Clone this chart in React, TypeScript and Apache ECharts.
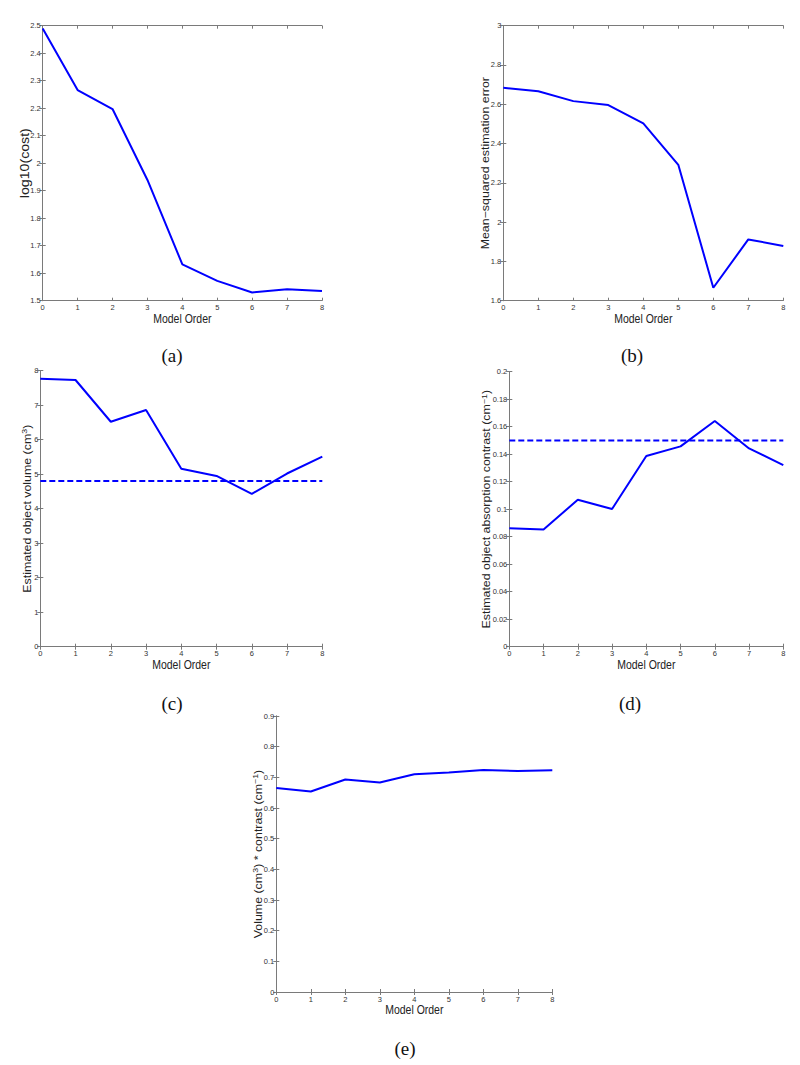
import React, { useEffect, useRef } from "react";
import * as echarts from "echarts";

const orders = [0, 1, 2, 3, 4, 5, 6, 7, 8];
const logCost = [2.49, 2.266, 2.197, 1.939, 1.632, 1.572, 1.53, 1.542, 1.535];
const mse = [2.684, 2.666, 2.616, 2.596, 2.503, 2.292, 1.666, 1.912, 1.879];
const volume = [7.77, 7.73, 6.52, 6.86, 5.16, 4.95, 4.43, 5.02, 5.51];
const contrast = [0.0861, 0.0852, 0.1069, 0.1001, 0.1387, 0.1457, 0.1641, 0.1442, 0.1321];
const product = [0.665, 0.654, 0.693, 0.683, 0.71, 0.716, 0.724, 0.721, 0.723];
const trueVolume = 4.8;
const trueContrast = 0.15;

const xName = "Model Order";
const captions = ["(a)", "(b)", "(c)", "(d)", "(e)"];

type Panel = {
  grid: { left: number; top: number; width: number; height: number };
  yName: string;
  yMin: number;
  yMax: number;
  yInterval: number;
  values: number[];
  ref?: number;
  nameOffset: number;
  nameSize: number;
  caption: { x: number; y: number };
};

const panels: Panel[] = [
  {
    grid: { left: 42.7, top: 25.7, width: 279.3, height: 275 },
    yName: "log10(cost)",
    yMin: 1.5, yMax: 2.5, yInterval: 0.1,
    values: logCost, nameOffset: 18.2, nameSize: 12,
    caption: { x: 172, y: 355 },
  },
  {
    grid: { left: 503.3, top: 25.7, width: 280, height: 275 },
    yName: "Mean\u2212squared estimation error",
    yMin: 1.6, yMax: 3, yInterval: 0.2,
    values: mse, nameOffset: 18, nameSize: 10.5,
    caption: { x: 632, y: 355 },
  },
  {
    grid: { left: 40.3, top: 370.7, width: 282, height: 276 },
    yName: "Estimated object volume (cm{sup|3})",
    yMin: 0, yMax: 8, yInterval: 1,
    values: volume, ref: trueVolume, nameOffset: 13, nameSize: 10.5,
    caption: { x: 172, y: 703 },
  },
  {
    grid: { left: 509.3, top: 371.7, width: 274, height: 275 },
    yName: "Estimated object absorption contrast (cm{sup|\u22121})",
    yMin: 0, yMax: 0.2, yInterval: 0.02,
    values: contrast, ref: trueContrast, nameOffset: 22.5, nameSize: 10.5,
    caption: { x: 630, y: 703 },
  },
  {
    grid: { left: 276.3, top: 716, width: 276, height: 276 },
    yName: "Volume (cm{sup|3}) * contrast (cm{sup|\u22121})",
    yMin: 0, yMax: 0.9, yInterval: 0.1,
    values: product, nameOffset: 18, nameSize: 10.5,
    caption: { x: 405, y: 1048 },
  },
];

const axisColor = "#7a7a7a";
const tickLabelColor = "#333";
const font = "'Liberation Sans', Arial, sans-serif";
const stretch = 1.18;

export default function App() {
  const ref = useRef<HTMLDivElement>(null);
  useEffect(() => {
    if (!ref.current) return;
    const chart = echarts.init(ref.current, undefined, { renderer: "svg" });
    const grid: any[] = [];
    const xAxis: any[] = [];
    const yAxis: any[] = [];
    const series: any[] = [];
    const graphic: any[] = [];
    panels.forEach((p, i) => {
      grid.push({ ...p.grid, containLabel: false, show: false });
      const baseX = {
        type: "value",
        gridIndex: i,
        min: 0,
        max: 8,
        interval: 1,
        splitLine: { show: false },
        axisLine: { show: true, lineStyle: { color: axisColor, width: 1 } },
        axisTick: { show: true, inside: true, length: 3, lineStyle: { color: axisColor } },
      };
      xAxis.push({
        ...baseX,
        position: "bottom",
        axisLabel: { fontFamily: font, fontSize: 7.5, color: tickLabelColor, margin: 3 },
      });
      xAxis.push({ ...baseX, position: "top", axisLabel: { show: false } });
      const baseY = {
        type: "value",
        gridIndex: i,
        min: p.yMin,
        max: p.yMax,
        interval: p.yInterval,
        splitLine: { show: false },
        axisLine: { show: true, lineStyle: { color: axisColor, width: 1 } },
        axisTick: { show: true, inside: true, length: 3, lineStyle: { color: axisColor } },
      };
      yAxis.push({
        ...baseY,
        position: "left",
        axisLabel: { fontFamily: font, fontSize: 7.5, color: tickLabelColor, margin: 2 },
      });
      yAxis.push({ ...baseY, position: "right", axisLabel: { show: false } });
      series.push({
        type: "line",
        xAxisIndex: 2 * i,
        yAxisIndex: 2 * i,
        data: orders.map((o, k) => [o, p.values[k]]),
        symbol: "none",
        lineStyle: { color: "#0000ff", width: 2 },
        clip: false,
      });
      if (p.ref !== undefined) {
        series.push({
          type: "line",
          xAxisIndex: 2 * i,
          yAxisIndex: 2 * i,
          data: [
            [orders[0], p.ref],
            [orders[orders.length - 1], p.ref],
          ],
          symbol: "none",
          lineStyle: { color: "#0000ff", width: 2, type: [6, 3] },
        });
      }
      graphic.push({
        type: "text",
        x: p.grid.left - p.nameOffset,
        y: p.grid.top + p.grid.height / 2,
        rotation: Math.PI / 2,
        scaleX: stretch,
        scaleY: 1,
        style: {
          text: p.yName,
          fontFamily: font,
          fontSize: p.nameSize,
          fill: "#222",
          align: "center",
          verticalAlign: "middle",
          rich: {
            sup: {
              fontFamily: font,
              fontSize: 7.5,
              fill: "#222",
              verticalAlign: "top",
              padding: [0, 0, 5, 0],
            },
          },
        },
      });
      graphic.push({
        type: "text",
        x: p.grid.left + p.grid.width / 2,
        y: p.grid.top + p.grid.height + 18,
        scaleX: 1,
        scaleY: stretch,
        style: {
          text: xName,
          fontFamily: font,
          fontSize: 10.5,
          fill: "#222",
          align: "center",
          verticalAlign: "middle",
        },
      });
      graphic.push({
        type: "text",
        x: p.caption.x,
        y: p.caption.y,
        style: {
          text: captions[i],
          fontFamily: "'Liberation Serif', 'Times New Roman', serif",
          fontSize: 19,
          fill: "#111",
          align: "center",
          verticalAlign: "middle",
        },
      });
    });
    chart.setOption({
      animation: false,
      backgroundColor: "#fff",
      grid,
      xAxis,
      yAxis,
      series,
      graphic,
    });
    return () => chart.dispose();
  }, []);
  return (
    <div
      ref={ref}
      style={{ position: "absolute", left: 0, top: 0, width: 800, height: 1065 }}
    />
  );
}
